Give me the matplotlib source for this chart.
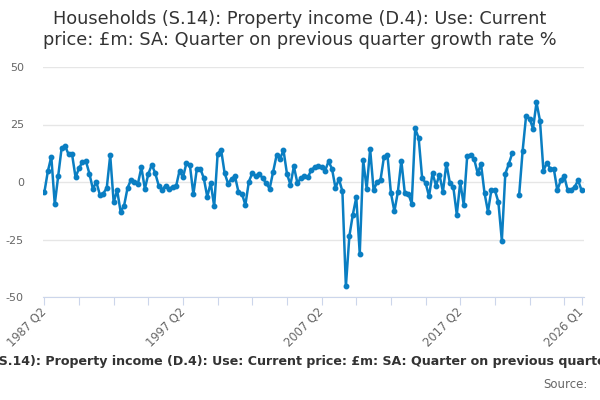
import numpy as np
import matplotlib
matplotlib.use('Agg')
import matplotlib.pyplot as plt

# quarterly growth rate, 1987 Q2 .. 2026 Q1
values = [
    -4.5, 4.6, 11, -9.6, 2.8, 15, 15.5, 12, 12, 2,
    6, 8.7, 9, 3.6, -3, 0, -5.5, -5, -2.6, 11.6,
    -8.8, -3.6, -12.9, -10.3, -2.6, 1, 0, -0.7, 6.4, -3,
    3.5, 7.5, 3.8, -1.6, -3.3, -1.6, -2.9, -2.2, -1.9, 4.9,
    2, 8.3, 7.2, -5.4, 5.8, 5.8, 1.7, -6.4, -0.4, -10.6,
    12.3, 14, 4, -0.7, 1.4, 2.5, -4.3, -5, -10, 0.1,
    3.9, 2.5, 3.5, 1.7, -0.6, -2.9, 4.3, 11.6, 10.1, 13.8,
    3.6, -1.2, 6.8, -0.4, 1.6, 2.5, 2, 5.1, 6.5, 6.8,
    6.4, 4.9, 9, 5.7, -2.6, 1.3, -4.1, -45.4, -23.6, -14.2,
    -6.7, -31.2, 9.4, -2.9, 14.3, -3.6, 0, 1, 11, 11.6,
    -4.8, -12.8, -4.3, 9.3, -4.8, -5, -9.4, 23.3, 19.1, 1.7,
    -0.4, -6.2, 3.9, -1.6, 3.2, -4.3, 8, -0.4, -2.2, -14.2,
    -0.1, -9.9, 11.2, 11.9, 10.1, 3.9, 7.7, -4.8, -12.9, -3.3,
    -3.6, -8.7, -25.5, 3.6, 7.8, 12.5, np.nan, -5.5, 13.6, 28.8,
    27.5, 23.2, 34.6, 26.7, 4.9, 8.3, 5.7, 5.7, -3.6, 0.7,
    2.5, -3.6, -3.3, -2.2, 0.7, -3.6,
]

quarters = []
y, q = 1987, 2
for _ in values:
    quarters.append(f"{y} Q{q}")
    q += 1
    if q > 4:
        q = 1
        y += 1

tick_pos = list(range(0, len(values), 10)) + [len(values) - 1]
label_pos = [0, 40, 80, 120, len(values) - 1]
yticks = [-50, -25, 0, 25, 50]

title = "Households (S.14): Property income (D.4): Use: Current\nprice: £m: SA: Quarter on previous quarter growth rate %"
footer = "Households (S.14): Property income (D.4): Use: Current price: £m: SA: Quarter on previous quarter growth rate %"

fig = plt.figure(figsize=(6, 4), dpi=100)
ax = fig.add_axes([0.0722, 0.2575, 0.9011, 0.575])

x = np.arange(len(values))
ax.plot(x, values, color='#0a7ec2', lw=1.8, marker='o', ms=3.2, zorder=3)

ax.set_xlim(-0.3, 155.7)
ax.set_ylim(-50, 50)
ax.set_yticks(yticks)
ax.set_yticklabels([str(v) for v in yticks])
ax.grid(axis='y', color='#e6e6e6', lw=1)
ax.set_axisbelow(True)

for s in ['top', 'right', 'left']:
    ax.spines[s].set_visible(False)
ax.spines['bottom'].set_color('#ccd6eb')
ax.tick_params(axis='x', colors='#ccd6eb', length=6, labelcolor='#666666',
               labelsize=8.3, pad=3, labelrotation=45)
ax.tick_params(axis='y', length=0, labelcolor='#666666', labelsize=8, pad=14)

ax.set_xticks(tick_pos)
ax.set_xticklabels([quarters[i] if i in label_pos else '' for i in tick_pos],
                   rotation=45, ha='right', va='center', rotation_mode='anchor')

fig.text(0.5, 0.975, title, ha='center', va='top', fontsize=12.8, color='#333333',
         linespacing=1.2)
fig.text(0.52, 0.095, footer, ha='center', va='center', fontsize=9.1, fontweight='bold',
         color='#333333')
fig.text(0.98, 0.038, "Source:", ha='right', va='center', fontsize=8.5, color='#666666')

fig.savefig('out.png', dpi=100)
